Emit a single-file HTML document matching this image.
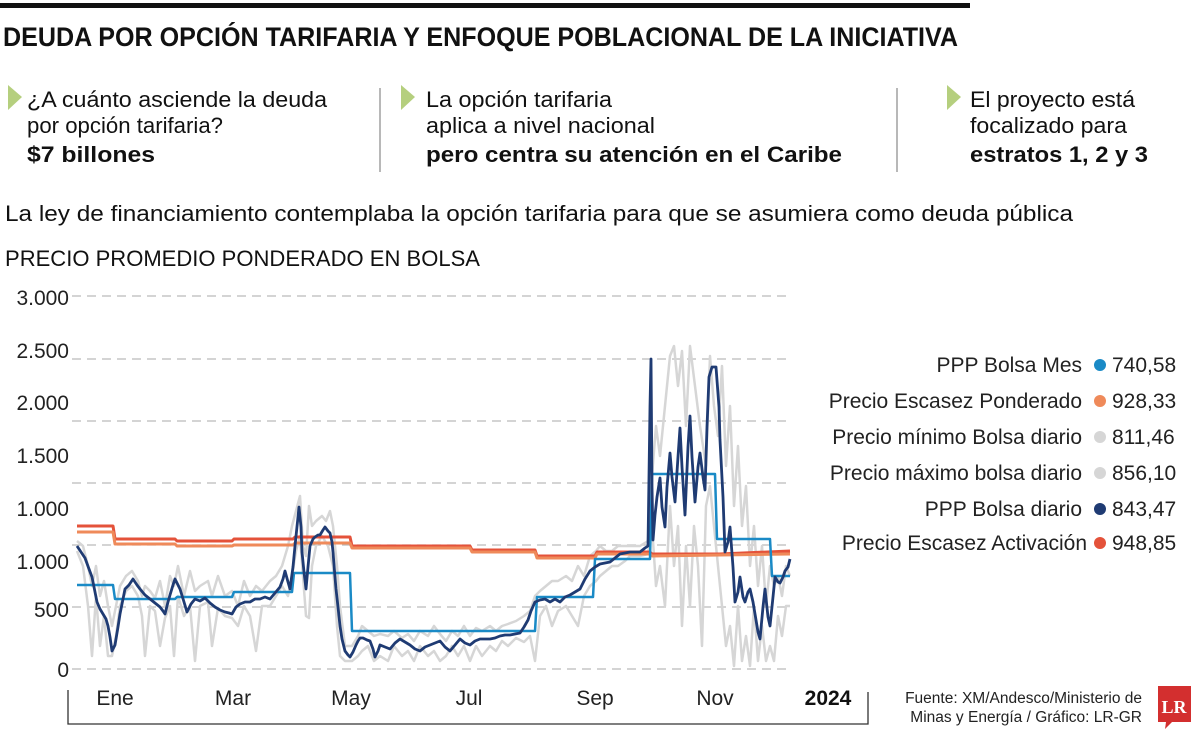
<!DOCTYPE html>
<html><head><meta charset="utf-8"><style>
html,body{margin:0;padding:0;background:#fff;}
svg{display:block;font-family:"Liberation Sans",sans-serif;}
</style></head><body>
<svg width="1200" height="736" viewBox="0 0 1200 736" xmlns="http://www.w3.org/2000/svg">
<rect x="0" y="3" width="970" height="5" fill="#111"/>
<text x="3" y="46" font-size="27" font-weight="bold" fill="#111" textLength="955" lengthAdjust="spacingAndGlyphs">DEUDA POR OPCIÓN TARIFARIA Y ENFOQUE POBLACIONAL DE LA INICIATIVA</text>
<polygon points="8,85 22,97 8,110" fill="#b5cf7e"/>
<polygon points="401,85 415,97 401,110" fill="#b5cf7e"/>
<polygon points="947,85 961,97 947,110" fill="#b5cf7e"/>
<line x1="380" y1="88" x2="380" y2="172" stroke="#888" stroke-width="1.2"/>
<line x1="897" y1="88" x2="897" y2="172" stroke="#888" stroke-width="1.2"/>
<g font-size="22" fill="#111">
<text x="27" y="107" textLength="300" lengthAdjust="spacingAndGlyphs">¿A cuánto asciende la deuda</text>
<text x="27" y="133" textLength="196" lengthAdjust="spacingAndGlyphs">por opción tarifaria?</text>
<text x="27" y="162" font-weight="bold" textLength="128" lengthAdjust="spacingAndGlyphs">$7 billones</text>
<text x="426" y="107" textLength="186" lengthAdjust="spacingAndGlyphs">La opción tarifaria</text>
<text x="426" y="133" textLength="229" lengthAdjust="spacingAndGlyphs">aplica a nivel nacional</text>
<text x="426" y="162" font-weight="bold" textLength="416" lengthAdjust="spacingAndGlyphs">pero centra su atención en el Caribe</text>
<text x="970" y="107" textLength="165" lengthAdjust="spacingAndGlyphs">El proyecto está</text>
<text x="970" y="133" textLength="157" lengthAdjust="spacingAndGlyphs">focalizado para</text>
<text x="970" y="162" font-weight="bold" textLength="178" lengthAdjust="spacingAndGlyphs">estratos 1, 2 y 3</text>
<text x="5" y="221" textLength="1068" lengthAdjust="spacingAndGlyphs">La ley de financiamiento contemplaba la opción tarifaria para que se asumiera como deuda pública</text>
<text x="5" y="266" textLength="475" lengthAdjust="spacingAndGlyphs">PRECIO PROMEDIO PONDERADO EN BOLSA</text>
</g>
<g stroke="#bbb" stroke-width="1.2" stroke-dasharray="9,6">
<line x1="72" y1="296" x2="792" y2="296"/><line x1="72" y1="359" x2="792" y2="359"/>
<line x1="72" y1="421" x2="792" y2="421"/><line x1="72" y1="483" x2="792" y2="483"/>
<line x1="72" y1="545" x2="792" y2="545"/><line x1="72" y1="607" x2="792" y2="607"/>
<line x1="72" y1="669" x2="792" y2="669"/>
</g>
<g font-size="21" fill="#222" text-anchor="end">
<text x="69" y="305">3.000</text><text x="69" y="358">2.500</text><text x="69" y="410">2.000</text>
<text x="69" y="463">1.500</text><text x="69" y="516">1.000</text><text x="69" y="569">1.000</text>
<text x="69" y="617">500</text><text x="69" y="677">0</text>
</g>
<g fill="none" stroke-linejoin="round">
<g transform="translate(0,6)">
<polyline stroke="#d6d6d6" stroke-width="2.5" points="77,545 83,560 88,600 92,650 96,590 100,640 104,610 108,650 112,650 116,630 120,600 126,585 132,580 138,590 142,610 145,650 150,600 155,605 160,640 165,612 170,600 174,650 178,590 184,610 190,600 195,655 200,600 208,596 212,640 218,602 225,610 232,612 238,620 244,600 250,610 256,645 262,600 270,600 276,590 282,580 288,590 292,570 296,545 300,530 303,570 306,610 309,612 312,560 316,540 322,530 328,540 333,560 337,620 340,650 345,655 352,655 358,650 362,645 368,640 374,655 380,650 388,655 394,640 402,650 408,645 414,655 420,640 428,650 434,645 440,655 446,650 452,640 458,650 464,640 470,655 476,640 482,650 490,640 496,645 502,635 508,640 516,632 524,636 530,630 535,655 540,610 546,600 552,620 558,605 566,600 572,610 578,620 584,590 590,580 596,575 600,570 606,565 612,560 618,560 625,555 630,550 640,550 648,548 652,520 656,580 660,560 665,600 670,500 674,560 678,520 682,620 686,540 690,600 694,520 698,560 702,640 706,500 710,480 714,520 718,560 722,600 726,640 730,620 734,660 738,600 742,655 746,630 750,660 754,600 758,655 762,620 766,655 770,640 774,655 778,610 782,630 786,600 790,600"/>
<polyline stroke="#d6d6d6" stroke-width="2.5" points="77,535 83,540 88,560 92,580 96,560 100,590 104,575 108,600 112,620 116,600 120,580 126,570 132,565 138,575 142,590 145,580 150,585 155,592 160,575 165,600 170,570 174,580 178,560 184,590 190,565 195,585 200,580 208,575 212,590 218,570 225,590 232,585 238,600 244,575 250,590 256,580 262,585 270,575 276,570 282,560 288,540 292,520 296,505 300,490 303,540 306,550 309,500 312,520 316,515 322,510 326,515 330,505 333,520 337,560 340,600 345,640 352,640 358,630 362,620 368,625 374,630 380,628 388,630 394,625 402,632 408,628 414,635 420,625 428,630 434,620 440,628 446,635 452,625 458,630 464,620 470,630 476,622 482,625 490,620 496,625 502,620 508,618 516,615 524,610 530,605 535,590 540,585 546,580 552,575 558,575 566,570 572,575 578,560 584,570 590,550 596,545 600,540 606,545 612,545 618,540 625,540 630,540 640,540 648,535 652,470 656,420 660,450 665,400 670,350 674,340 678,380 682,345 686,420 690,340 695,380 700,420 706,460 710,350 714,400 718,430 722,360 726,460 730,400 734,500 738,440 742,520 746,480 750,560 754,520 758,580 762,540 766,600 770,560 774,580 778,570 782,590 786,560 790,570"/>
</g>
<polyline stroke="#e4523a" stroke-width="3" points="77,526 113,526 115,539 175,539 177,541 232,541 234,539 293,539 295,537 350,537 352,546 470,546 472,550 535,550 537,556 595,556 597,552 650,552 652,554 720,554 790,551"/>
<polyline stroke="#ef8a5a" stroke-width="3" points="77,532 113,532 115,544 175,544 177,546 232,546 234,545 293,545 295,543 350,543 352,548 470,548 472,552 535,552 537,558 595,558 597,554 650,554 652,556 790,554"/>
<polyline stroke="#1a8ac6" stroke-width="2.5" points="77,585 113,585 115,599 175,599 177,597 232,597 234,592 292,592 294,573 350,573 352,631 535,631 537,597 593,597 595,559 650,559 652,474 715,474 717,539 770,539 772,576 790,576"/>
<polyline transform="translate(0,7)" stroke="#1f3b73" stroke-width="2.8" points="77,539 81,545 85,551 89,562 92,570 95,585 97,595 100,602 103,607 106,612 108,619 110,630 112,644 115,638 118,620 120,607 123,592 125,582 129,578 133,572 137,578 140,582 145,588 150,592 155,596 160,600 163,604 165,607 168,595 170,588 173,578 175,572 178,578 180,582 184,595 187,605 191,597 195,592 200,594 205,591 210,596 215,600 220,603 225,605 229,606 232,607 236,600 240,597 245,595 250,595 255,592 260,592 265,590 270,592 275,586 280,580 283,572 285,564 288,575 290,582 293,560 295,539 298,510 299,500 301,520 302,545 304,565 306,582 308,560 310,539 313,532 315,530 318,528 320,528 323,523 325,520 328,524 330,526 332,535 333,545 335,570 336,582 338,600 340,619 342,632 345,644 348,648 350,650 353,645 356,638 358,634 360,631 363,631 367,633 370,634 373,642 375,650 378,644 380,638 385,640 390,642 395,636 400,632 405,635 410,638 415,642 420,644 425,640 430,638 435,636 440,634 445,640 450,644 455,638 460,632 465,636 470,638 475,634 480,632 485,632 490,632 495,631 500,629 505,628 510,628 515,627 520,626 524,620 528,613 531,604 535,595 540,593 545,592 550,595 555,592 560,595 565,590 570,588 575,585 580,582 585,572 590,564 595,560 600,557 605,556 610,555 615,551 620,547 625,546 630,545 635,545 640,545 645,541 648,539 650,400 651,352 652,480 653,533 655,508 657,490 660,471 662,500 665,520 667,480 670,446 672,470 675,495 678,450 680,421 682,460 685,508 688,440 690,409 692,450 695,495 698,460 700,446 703,470 705,483 707,420 709,370 712,360 716,360 719,400 720,433 723,490 725,545 728,535 730,520 733,560 735,595 738,585 740,570 743,590 745,595 748,585 750,582 753,595 755,607 758,625 760,632 763,600 765,582 768,610 770,619 773,590 775,570 778,575 780,576 783,570 785,564 788,560 790,552"/>
</g>
<g font-size="21" fill="#222" text-anchor="middle">
<text x="115" y="705">Ene</text><text x="233" y="705">Mar</text><text x="351" y="705">May</text>
<text x="469" y="705">Jul</text><text x="595" y="705">Sep</text><text x="715" y="705">Nov</text>
</g>
<text x="828" y="705" font-size="21" font-weight="bold" text-anchor="middle" fill="#111">2024</text>
<polyline points="68,690 68,724 868,724 868,692" fill="none" stroke="#333" stroke-width="1.3"/>
<g font-size="21" fill="#222">
<text x="1082" y="372" text-anchor="end">PPP Bolsa Mes</text>
<text x="1082" y="408" text-anchor="end">Precio Escasez Ponderado</text>
<text x="1082" y="444" text-anchor="end">Precio mínimo Bolsa diario</text>
<text x="1082" y="480" text-anchor="end">Precio máximo bolsa diario</text>
<text x="1082" y="516" text-anchor="end">PPP Bolsa diario</text>
<text x="1087" y="550" text-anchor="end">Precio Escasez Activación</text>
<text x="1112" y="372">740,58</text><text x="1112" y="408">928,33</text><text x="1112" y="444">811,46</text>
<text x="1112" y="480">856,10</text><text x="1112" y="516">843,47</text><text x="1112" y="550">948,85</text>
</g>
<circle cx="1100" cy="365" r="6" fill="#1a8ac6"/><circle cx="1100" cy="401" r="6" fill="#ef8a5a"/>
<circle cx="1100" cy="437" r="6" fill="#d6d6d6"/><circle cx="1100" cy="473" r="6" fill="#d6d6d6"/>
<circle cx="1100" cy="509" r="6" fill="#1f3b73"/><circle cx="1100" cy="543" r="6" fill="#e4523a"/>
<g font-size="15.5" fill="#222" text-anchor="end">
<text x="1142" y="703">Fuente: XM/Andesco/Ministerio de</text>
<text x="1142" y="722">Minas y Energía / Gráfico: LR-GR</text>
</g>
<path d="M1158,686 H1191 V722 H1172 L1165,729 L1166,722 H1158 Z" fill="#d32f2f"/>
<text x="1174" y="713" font-size="18" font-weight="bold" fill="#fff" text-anchor="middle" font-family="Liberation Serif,serif">LR</text>
</svg>
</body></html>
